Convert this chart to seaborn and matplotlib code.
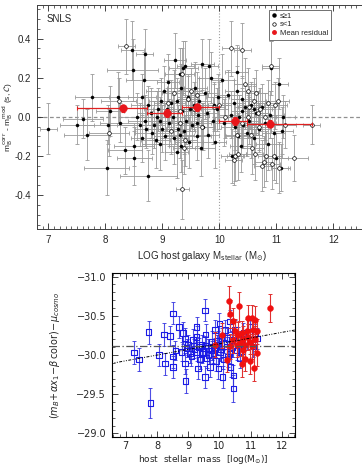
import numpy as np
import pandas as pd
import seaborn as sns
import matplotlib.pyplot as plt
from matplotlib.lines import Line2D
from matplotlib.ticker import MultipleLocator

# top panel (SNLS hubble residuals): (x, y, xerr, yerr)
snls_big_s = [
    (7.00, -0.06, 0.15, 0.13), (7.50, -0.04, 0.30, 0.10), (7.60, -0.01, 0.35, 0.10),
    (7.68, -0.09, 0.40, 0.13), (7.77, 0.10, 0.30, 0.12), (8.02, -0.26, 0.40, 0.14),
    (8.08, 0.03, 0.25, 0.13), (8.05, -0.04, 0.45, 0.10), (8.22, 0.10, 0.45, 0.13),
    (8.34, -0.17, 0.30, 0.12), (8.25, -0.03, 0.35, 0.10), (8.47, 0.34, 0.20, 0.15),
    (8.48, 0.24, 0.45, 0.16), (8.51, -0.21, 0.30, 0.14), (8.69, 0.32, 0.15, 0.13),
    (8.67, 0.19, 0.30, 0.14), (8.64, 0.10, 0.25, 0.12), (8.75, -0.30, 0.50, 0.13),
    (8.50, -0.15, 0.35, 0.10), (8.55, 0.00, 0.30, 0.12), (8.60, -0.04, 0.40, 0.11),
    (8.70, -0.02, 0.30, 0.13), (8.65, -0.11, 0.20, 0.12), (8.80, 0.02, 0.25, 0.13),
    (8.82, -0.08, 0.30, 0.11), (8.85, -0.04, 0.20, 0.12), (8.90, 0.00, 0.35, 0.13),
    (8.93, 0.04, 0.25, 0.11), (8.95, -0.14, 0.30, 0.13), (8.97, 0.08, 0.20, 0.12),
    (8.75, 0.06, 0.30, 0.10), (8.88, -0.12, 0.25, 0.14), (8.72, -0.06, 0.20, 0.10),
    (8.95, -0.02, 0.30, 0.12), (9.00, -0.06, 0.25, 0.12), (9.02, 0.13, 0.30, 0.13),
    (9.05, -0.10, 0.20, 0.12), (9.08, 0.04, 0.25, 0.11), (9.10, 0.18, 0.20, 0.14),
    (9.12, -0.03, 0.30, 0.12), (9.15, 0.07, 0.25, 0.12), (9.18, 0.00, 0.20, 0.11),
    (9.20, -0.11, 0.25, 0.13), (9.22, 0.29, 0.20, 0.14), (9.25, 0.08, 0.30, 0.12),
    (9.27, -0.06, 0.20, 0.12), (9.30, 0.22, 0.25, 0.13), (9.32, -0.15, 0.20, 0.13),
    (9.33, 0.15, 0.25, 0.12), (9.35, 0.03, 0.20, 0.11), (9.37, 0.25, 0.25, 0.14),
    (9.38, -0.07, 0.20, 0.12), (9.40, 0.26, 0.15, 0.13), (9.42, -0.02, 0.25, 0.12),
    (9.45, 0.10, 0.20, 0.12), (9.47, -0.13, 0.25, 0.13), (9.48, 0.04, 0.20, 0.11),
    (9.30, -0.09, 0.25, 0.12), (9.25, -0.18, 0.20, 0.13), (9.52, -0.04, 0.20, 0.12),
    (9.55, 0.06, 0.25, 0.12), (9.58, 0.15, 0.20, 0.13), (9.60, -0.10, 0.25, 0.12),
    (9.62, 0.01, 0.20, 0.11), (9.65, 0.08, 0.20, 0.12), (9.68, -0.16, 0.25, 0.14),
    (9.70, 0.27, 0.20, 0.13), (9.72, -0.05, 0.20, 0.12), (9.75, 0.12, 0.25, 0.13),
    (9.78, 0.02, 0.20, 0.11), (9.80, -0.09, 0.20, 0.12), (9.82, 0.26, 0.15, 0.14),
    (9.85, 0.20, 0.20, 0.13), (9.88, -0.02, 0.20, 0.12), (9.90, 0.06, 0.25, 0.12),
    (9.92, -0.13, 0.20, 0.13), (9.95, 0.04, 0.20, 0.11), (9.97, 0.10, 0.20, 0.12),
    (9.60, -0.03, 0.25, 0.12), (10.05, 0.19, 0.20, 0.13), (10.08, -0.03, 0.20, 0.12),
    (10.15, 0.11, 0.25, 0.13), (10.20, 0.01, 0.20, 0.12), (10.22, -0.20, 0.20, 0.14),
    (10.25, 0.07, 0.20, 0.12), (10.28, -0.05, 0.25, 0.12), (10.30, 0.13, 0.20, 0.13),
    (10.32, -0.10, 0.20, 0.12), (10.35, 0.00, 0.20, 0.11), (10.38, -0.15, 0.20, 0.13),
    (10.40, 0.09, 0.20, 0.12), (10.42, -0.04, 0.20, 0.12), (10.45, 0.05, 0.20, 0.11),
    (10.48, -0.08, 0.20, 0.12), (10.30, 0.23, 0.20, 0.14), (10.52, -0.02, 0.20, 0.12),
    (10.55, 0.06, 0.20, 0.12), (10.60, -0.11, 0.20, 0.13), (10.65, 0.02, 0.20, 0.11),
    (10.70, -0.06, 0.20, 0.12), (10.75, 0.05, 0.20, 0.12), (10.80, -0.03, 0.20, 0.11),
    (10.85, -0.14, 0.20, 0.13), (10.88, 0.01, 0.25, 0.12), (10.90, 0.25, 0.15, 0.14),
    (10.95, -0.08, 0.20, 0.12), (11.05, 0.17, 0.15, 0.13), (11.00, -0.21, 0.20, 0.13),
    (11.08, -0.26, 0.15, 0.12), (11.10, -0.07, 0.20, 0.12), (11.12, 0.00, 0.20, 0.11),
    (10.60, 0.04, 0.20, 0.12), (10.40, 0.03, 0.20, 0.12),
]
snls_small_s = [
    (8.06, -0.08, 0.35, 0.12), (8.23, 0.08, 0.30, 0.12), (8.37, 0.36, 0.15, 0.14),
    (9.35, -0.37, 0.12, 0.15), (9.35, 0.22, 0.15, 0.13), (9.10, 0.07, 0.25, 0.12),
    (9.20, 0.12, 0.20, 0.12), (9.30, 0.03, 0.20, 0.11), (9.40, -0.12, 0.20, 0.13),
    (9.45, 0.09, 0.20, 0.12), (9.50, 0.13, 0.20, 0.12), (9.55, 0.04, 0.20, 0.11),
    (9.60, 0.11, 0.20, 0.12), (9.70, -0.05, 0.20, 0.12), (9.30, -0.03, 0.20, 0.12),
    (9.38, -0.16, 0.20, 0.13), (9.15, -0.07, 0.20, 0.12), (9.90, 0.05, 0.20, 0.12),
    (10.00, 0.06, 0.20, 0.12), (10.10, 0.00, 0.20, 0.11), (10.20, 0.35, 0.15, 0.14),
    (10.30, -0.09, 0.20, 0.12), (10.25, -0.22, 0.15, 0.13), (10.28, -0.20, 0.15, 0.13),
    (10.32, -0.19, 0.15, 0.13), (10.40, 0.34, 0.15, 0.14), (10.45, 0.17, 0.20, 0.13),
    (10.50, 0.13, 0.20, 0.12), (10.52, 0.05, 0.20, 0.11), (10.55, -0.09, 0.20, 0.12),
    (10.58, -0.16, 0.20, 0.13), (10.60, 0.08, 0.20, 0.12), (10.62, -0.19, 0.15, 0.13),
    (10.65, 0.12, 0.20, 0.12), (10.70, -0.05, 0.20, 0.12), (10.72, 0.04, 0.20, 0.11),
    (10.75, -0.25, 0.15, 0.13), (10.78, -0.23, 0.15, 0.13), (10.80, 0.00, 0.20, 0.12),
    (10.82, -0.20, 0.15, 0.13), (10.85, 0.07, 0.20, 0.12), (10.90, 0.26, 0.15, 0.13),
    (10.92, -0.24, 0.15, 0.13), (10.95, -0.20, 0.15, 0.12), (10.98, 0.06, 0.20, 0.12),
    (11.02, 0.08, 0.20, 0.12), (11.05, -0.26, 0.15, 0.13), (11.15, -0.04, 0.20, 0.12),
    (11.30, -0.21, 0.25, 0.12), (11.62, -0.04, 0.15, 0.10), (10.50, 0.00, 0.20, 0.11),
    (10.40, -0.03, 0.20, 0.12), (10.68, 0.02, 0.20, 0.11),
]
mean_centers = [8.31, 9.08, 9.61, 10.28, 10.88]
mean_resid = [0.043, 0.020, 0.050, -0.022, -0.036]
mean_err = [0.020, 0.018, 0.018, 0.020, 0.018]
bin_edges = [7.50, 8.73, 9.35, 9.99, 10.49, 11.63]

# bottom panel: (mass, residual, yerr)
low_mass = [
    (7.27, -30.03, 0.15), (7.42, -29.94, 0.15), (7.73, -30.29, 0.15), (7.79, -29.39, 0.19),
    (8.07, -30.00, 0.14), (8.23, -30.26, 0.15), (8.25, -29.89, 0.14), (8.41, -30.24, 0.13),
    (8.52, -30.53, 0.14), (8.52, -29.98, 0.15), (8.52, -29.85, 0.14), (8.59, -30.06, 0.12),
    (8.70, -30.36, 0.14), (8.79, -30.04, 0.12), (8.84, -30.28, 0.14), (8.90, -29.89, 0.13),
    (8.90, -30.21, 0.14), (8.92, -29.67, 0.15), (8.95, -30.09, 0.12), (9.00, -30.13, 0.13),
    (9.10, -29.98, 0.12), (9.16, -30.19, 0.14), (9.27, -30.36, 0.13), (9.27, -30.23, 0.14),
    (9.29, -30.04, 0.12), (9.32, -29.83, 0.14), (9.38, -29.94, 0.12), (9.43, -30.13, 0.13),
    (9.48, -30.04, 0.12), (9.54, -30.57, 0.14), (9.56, -30.26, 0.13), (9.59, -29.96, 0.12),
    (9.54, -29.72, 0.14), (9.64, -30.09, 0.12), (9.70, -29.85, 0.13), (9.75, -30.17, 0.13),
    (9.81, -30.02, 0.12), (9.86, -30.32, 0.13), (9.89, -29.92, 0.12), (9.91, -30.13, 0.12),
    (9.97, -29.83, 0.13), (10.00, -30.40, 0.14), (10.02, -30.04, 0.12), (10.07, -30.21, 0.13),
    (10.10, -29.72, 0.14), (10.13, -29.94, 0.12), (10.18, -30.32, 0.13), (10.23, -30.11, 0.12),
    (10.28, -29.98, 0.13), (10.34, -30.43, 0.14), (10.36, -29.85, 0.13), (10.39, -30.19, 0.12),
    (10.45, -29.74, 0.13), (10.45, -29.57, 0.17), (10.50, -30.32, 0.13), (10.55, -30.06, 0.12),
    (10.61, -30.23, 0.13), (10.66, -29.96, 0.12), (10.77, -30.28, 0.13), (10.88, -30.19, 0.12),
    (10.98, -30.36, 0.13), (11.09, -30.11, 0.13), (11.14, -30.28, 0.12), (11.20, -30.21, 0.13),
    (9.35, -30.10, 0.12), (9.45, -30.02, 0.12), (9.55, -30.12, 0.12), (9.65, -30.00, 0.12),
    (9.75, -30.06, 0.12), (9.85, -30.10, 0.12), (9.95, -30.18, 0.12), (10.05, -30.08, 0.12),
    (10.15, -30.15, 0.12), (10.25, -30.22, 0.12), (10.32, -30.02, 0.12), (10.42, -30.10, 0.12),
    (9.20, -30.08, 0.12), (9.05, -30.02, 0.12), (10.60, -30.12, 0.12), (10.72, -30.05, 0.12),
]
high_mass = [
    (10.31, -30.69, 0.19), (10.34, -30.52, 0.18), (10.45, -30.43, 0.17), (10.64, -30.62, 0.18),
    (10.93, -30.47, 0.17), (11.04, -30.47, 0.17), (11.14, -30.45, 0.18), (11.63, -30.60, 0.18),
    (10.07, -30.25, 0.16), (9.86, -30.13, 0.16), (10.23, -29.94, 0.16), (10.71, -29.89, 0.17),
    (10.98, -29.92, 0.16), (11.11, -29.84, 0.17), (11.20, -30.02, 0.16), (10.82, -29.95, 0.16),
    (10.50, -30.30, 0.16), (10.61, -30.26, 0.16), (10.71, -30.28, 0.16), (10.77, -30.21, 0.16),
    (10.88, -30.30, 0.16), (10.93, -30.23, 0.16), (10.98, -30.17, 0.16), (11.09, -30.32, 0.16),
    (11.14, -30.21, 0.16), (10.66, -30.15, 0.16), (10.82, -30.13, 0.16), (10.45, -30.19, 0.16),
    (10.55, -30.13, 0.16), (11.04, -30.11, 0.16), (11.20, -30.30, 0.16), (10.34, -30.11, 0.16),
    (10.77, -30.06, 0.16),
]
mean_level = -30.11
fit_intercept = -29.89   # value at mass 6.5
fit_slope = -0.0725


sns.set_style('ticks')
plt.rcParams['font.family'] = ['Liberation Sans', 'DejaVu Sans']
plt.rcParams['mathtext.fontset'] = 'dejavusans'

fig = plt.figure(figsize=(3.62, 4.65), dpi=100)

# ---- top panel
ax1 = fig.add_axes([37 / 362, 1 - 229 / 465, 330.6 / 362, 224 / 465])
big = pd.DataFrame(snls_big_s, columns=['x', 'y', 'xe', 'ye'])
small = pd.DataFrame(snls_small_s, columns=['x', 'y', 'xe', 'ye'])
for df in (big, small):
    ax1.errorbar(df.x, df.y, xerr=df.xe, yerr=df.ye, fmt='none', ecolor='#9a9a9a',
                 elinewidth=0.6, capsize=1.5, capthick=0.6, zorder=1)
ax1.axhline(0.0, color='#909090', ls=(0, (3, 2)), lw=0.9, zorder=0)
ax1.axvline(10.0, color='#a0a0a0', ls=':', lw=0.8, zorder=0)
sns.scatterplot(data=big, x='x', y='y', ax=ax1, color='black', s=5, marker='o',
                edgecolor='black', linewidth=0.3, zorder=3)
sns.scatterplot(data=small, x='x', y='y', ax=ax1, color='white', s=7, marker='o',
                edgecolor='black', linewidth=0.5, zorder=3)

edges = np.array(bin_edges)
centers = np.array(mean_centers)
xerr_bins = [centers - edges[:-1], edges[1:] - centers]
ax1.errorbar(centers, mean_resid, xerr=xerr_bins, yerr=mean_err, fmt='none',
             ecolor='#e02020', elinewidth=0.9, capsize=1.5, capthick=0.8, zorder=4)
means = pd.DataFrame({'x': mean_centers, 'y': mean_resid})
sns.scatterplot(data=means, x='x', y='y', ax=ax1, color='#e8161b', s=30,
                edgecolor='#e8161b', zorder=5)

ax1.set_xlim(6.8, 12.6)
ax1.set_ylim(-0.573, 0.572)
ax1.set_xticks([7, 8, 9, 10, 11, 12])
ax1.set_yticks([-0.4, -0.2, 0.0, 0.2, 0.4])
ax1.set_yticklabels(['-0.4', '-0.2', '0.0', '0.2', '0.4'])
ax1.xaxis.set_minor_locator(MultipleLocator(0.1))
ax1.yaxis.set_minor_locator(MultipleLocator(0.05))
ax1.tick_params(which='both', direction='in', top=True, right=True, labelsize=7, pad=4)
ax1.tick_params(which='major', length=4, width=0.6)
ax1.tick_params(which='minor', length=2, width=0.5)
ax1.set_xlabel(r'LOG host galaxy M$_{\rm stellar}$ (M$_{\odot}$)', fontsize=7, labelpad=3)
ax1.set_ylabel(r'm$_{\rm B}^{\rm corr}$ - m$_{\rm B}^{\rm mod}$ (s, $\mathcal{C}$)',
               fontsize=6)
ax1.yaxis.set_label_coords(-0.066, 0.5)
for sp in ax1.spines.values():
    sp.set_linewidth(0.7)
    sp.set_color('#404040')
ax1.text(0.03, 0.96, 'SNLS', transform=ax1.transAxes, fontsize=7, va='top')

handles = [
    Line2D([], [], ls='none', marker='o', ms=2.2, color='black'),
    Line2D([], [], ls='none', marker='o', ms=2.5, mfc='white', mec='black', mew=0.5),
    Line2D([], [], ls='none', marker='o', ms=2.5, color='#e8161b'),
]
leg = ax1.legend(handles, ['s\u22651', 's<1', 'Mean residual'], loc='upper left',
                 bbox_to_anchor=(0.703, 0.978), fontsize=5.5, frameon=True, fancybox=False,
                 handlelength=0.6, handletextpad=0.4, borderpad=0.35, labelspacing=0.15,
                 borderaxespad=0)
leg.get_frame().set_edgecolor('#303030')
leg.get_frame().set_linewidth(0.6)

# ---- bottom panel
ax2 = fig.add_axes([111.7 / 362, 1 - 437.3 / 465, 183.3 / 362, 164.6 / 465])
low = pd.DataFrame(low_mass, columns=['x', 'y', 'ye'])
high = pd.DataFrame(high_mass, columns=['x', 'y', 'ye'])
ax2.errorbar(low.x, low.y, yerr=low.ye, fmt='none', ecolor='#3030e0', elinewidth=0.8,
             capsize=1.2, capthick=0.7, zorder=1, alpha=0.85)
sns.scatterplot(data=low, x='x', y='y', ax=ax2, marker='s', s=16, facecolor='none',
                edgecolor='#1a1ae6', linewidth=0.8, zorder=2)
ax2.errorbar(high.x, high.y, yerr=high.ye, fmt='none', ecolor='#e03030', elinewidth=0.8,
             capsize=1.2, capthick=0.7, zorder=3)
sns.scatterplot(data=high, x='x', y='y', ax=ax2, marker='o', s=18, color='#f01010',
                edgecolor='#f01010', linewidth=0.3, zorder=4)

ax2.axhline(mean_level, color='#555555', ls=(0, (6, 2, 1, 2)), lw=0.9, zorder=5)
xs = np.array([6.5, 12.5])
ax2.plot(xs, fit_intercept + fit_slope * (xs - 6.5), color='black',
         ls=(0, (3, 1.5, 1, 1.5, 1, 1.5)), lw=0.7, zorder=5)

ax2.set_xlim(6.55, 12.42)
ax2.set_ylim(-28.95, -31.05)
ax2.set_xticks([7, 8, 9, 10, 11, 12])
ax2.set_yticks([-31.0, -30.5, -30.0, -29.5, -29.0])
ax2.set_yticklabels(['\u221231.0', '\u221230.5', '\u221230.0', '\u221229.5', '\u221229.0'])
ax2.xaxis.set_minor_locator(MultipleLocator(0.2))
ax2.yaxis.set_minor_locator(MultipleLocator(0.1))
ax2.tick_params(which='both', direction='in', top=True, right=True, labelsize=7)
ax2.tick_params(axis='x', pad=2.5)
ax2.tick_params(axis='y', pad=4)
ax2.tick_params(which='major', length=4, width=0.6)
ax2.tick_params(which='minor', length=2, width=0.5)
for lab in ax2.get_xticklabels() + ax2.get_yticklabels():
    lab.set_family('DejaVu Sans')
ax2.set_xlabel(r'host  stellar  mass  [log(M$_{\odot}$)]', fontsize=6.5,
               family='DejaVu Sans')
ax2.xaxis.set_label_coords(0.5, -0.095)
ax2.set_ylabel(r'$(m_B\!+\!\alpha x_1\!-\!\beta\,\mathrm{color})\!-\!\mu_{cosmo}$',
               fontsize=7)
ax2.yaxis.set_label_coords(-0.27, 0.5)
for sp in ax2.spines.values():
    sp.set_linewidth(0.8)
    sp.set_color('black')

fig.savefig('out.png', dpi=100)
